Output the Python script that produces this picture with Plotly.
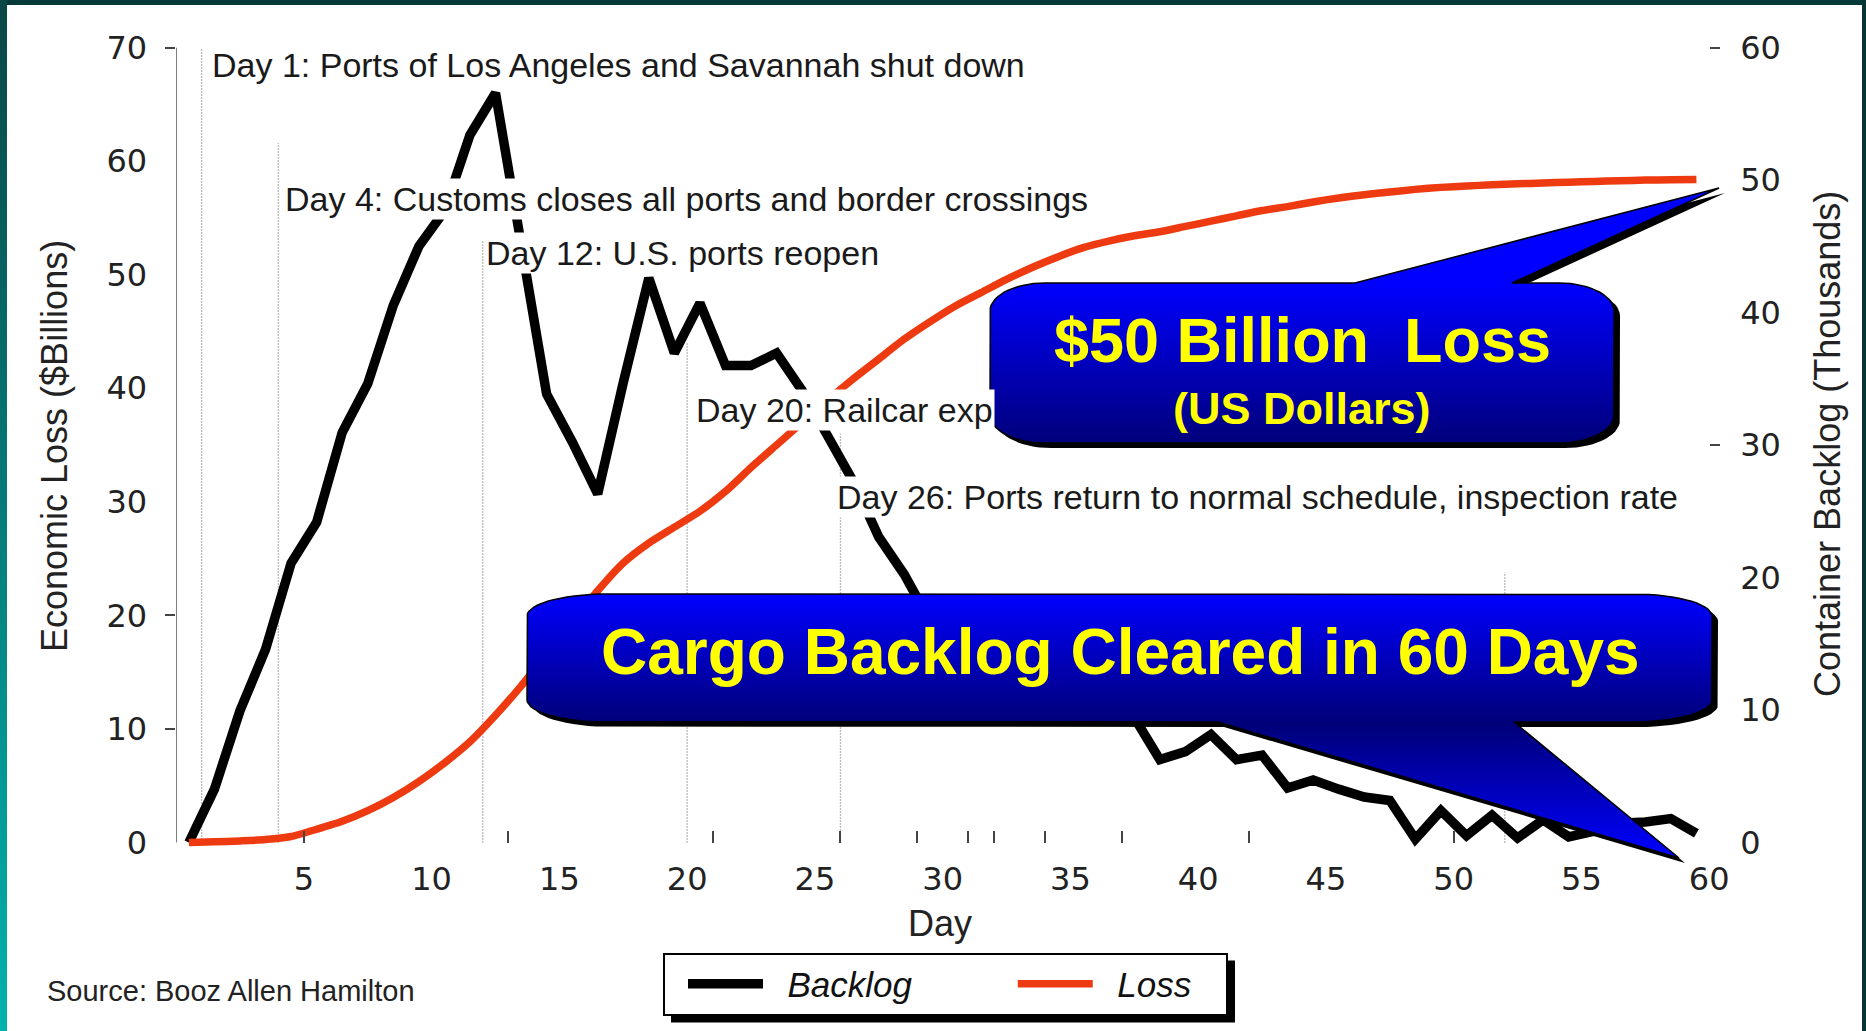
import numpy as np
import plotly.graph_objects as go

# ------------------------------------------------------------------ data
days = list(range(1, 61))
backlog = [0.0, 4.7, 11.6, 17.0, 24.6, 28.2, 36.1, 40.4, 47.3, 52.5,
           55.6, 62.3, 66.0, 53.0, 39.5, 35.3, 30.7, 40.5, 49.7, 43.1,
           47.5, 42.0, 42.0, 43.1, 39.8, 35.8, 31.8, 26.9, 23.6, 19.5,
           18.8, 17.5, 17.9, 16.2, 15.1, 14.6, 13.0, 11.0, 7.3, 8.0,
           9.5, 7.3, 7.7, 4.8, 5.5, 4.7, 4.0, 3.7, 0.3, 2.8,
           0.6, 2.4, 0.4, 2.0, 0.5, 1.0, 1.7, 1.8, 2.1, 0.8]
loss = [0.0, 0.05, 0.12, 0.22, 0.45, 1.0, 1.6, 2.4, 3.4, 4.6,
        6.0, 7.6, 9.6, 11.8, 14.2, 16.6, 19.0, 21.1, 22.6, 23.8,
        25.0, 26.5, 28.3, 30.0, 31.7, 33.4, 35.0, 36.5, 38.0, 39.3,
        40.5, 41.5, 42.5, 43.4, 44.2, 44.9, 45.4, 45.8, 46.1, 46.5,
        46.9, 47.3, 47.7, 48.0, 48.35, 48.65, 48.9, 49.1, 49.3, 49.45,
        49.55, 49.65, 49.72, 49.78, 49.84, 49.9, 49.95, 50.0, 50.02, 50.05]

x_ticks = [5, 10, 15, 20, 25, 30, 35, 40, 45, 50, 55, 60]
left_ticks = [0, 10, 20, 30, 40, 50, 60, 70]
right_ticks = [0, 10, 20, 30, 40, 50, 60]
bottom_marks = [5, 13, 21, 26, 29, 31, 32, 34, 37, 42, 50]
left_marks = [10, 20, 70]
right_marks = [30, 60]

event_days = [1, 4, 12, 20, 26, 52]
event_tops = [70, 61.6, 53.0, 44.0, 36.0, 23.8]
event_labels = ["Day 1: Ports of Los Angeles and Savannah shut down",
                "Day 4: Customs closes all ports and border crossings",
                "Day 12: U.S. ports reopen",
                "Day 20: Railcar exp",
                "Day 26: Ports return to normal schedule, inspection rate",
                None]
event_label_y = [68.5, 56.7, 51.9, 38.1, 30.4, None]
event_label_shift = [8, 5, 1, 7, -5, 0]

callout1_lines = ["$50 Billion  Loss", "(US Dollars)"]
callout2_text = "Cargo Backlog Cleared in 60 Days"
source_text = "Source: Booz Allen Hamilton"
series_names = ["Backlog", "Loss"]

# ------------------------------------------------------------------ geometry
W, H = 1866, 1031
PX_X0, PX_X60 = 176.1, 1709.2
PX_Y0, PX_Y70 = 842.5, 47.6
YMIN = -1.0
ppu = (PX_Y0 - PX_Y70) / 70.0
px_ymin = PX_Y0 - YMIN * ppu
dom_x = [PX_X0 / W, PX_X60 / W]
dom_y = [1 - px_ymin / H, 1 - PX_Y70 / H]
y0_paper = 1 - PX_Y0 / H
R_MIN = YMIN * 60.0 / 70.0

x_pos = np.array(days) - 0.5  # values plotted at category centres

TICK_FONT = dict(family="DejaVu Sans", size=32, color="#222")
TITLE_FONT = dict(family="Liberation Sans, Arial", size=36, color="#222")
NOTE_FONT = dict(family="Liberation Sans, Arial", size=34, color="#1a1a1a")
BIG_FONT = dict(family="Liberation Sans, Arial", size=64, color="#FFFF00", weight="bold")

fig = go.Figure()

# event marker lines
ex, ey = [], []
for d, t in zip(event_days, event_tops):
    ex += [d, d, None]
    ey += [0, t, None]
fig.add_trace(go.Scatter(x=ex, y=ey, mode="lines", showlegend=False, hoverinfo="skip",
                         line=dict(color="#777", width=1.3, dash="1px,2px")))

NB = "\u00a0"
fig.add_trace(go.Scatter(x=x_pos, y=backlog, mode="lines", name=NB * 2 + series_names[0] + NB * 8,
                         line=dict(color="black", width=9.5)))
fig.add_trace(go.Scatter(x=x_pos, y=loss, mode="lines", name=NB * 2 + series_names[1] + NB * 3,
                         yaxis="y2",
                         line=dict(color="#EE3A10", width=7.5, shape="spline", smoothing=0.6)))


# ------------------------------------------------------------------ callouts (pixel overlay)
def callout(x0, x1, y0, y1, rx, ry, edge, base, tip, n=16):
    pts = [(x0 + rx, y0)]

    def arc(cx, cy, a0, a1):
        t = np.radians(np.linspace(a0, a1, n))
        return list(zip(cx + rx * np.cos(t), cy + ry * np.sin(t)))
    if edge == "top":
        pts += [(base[0], y0), tip, (base[1], y0)]
    pts += arc(x1 - rx, y0 + ry, -90, 0)
    pts += arc(x1 - rx, y1 - ry, 0, 90)
    if edge == "bottom":
        pts += [(base[1], y1), tip, (base[0], y1)]
    pts += arc(x0 + rx, y1 - ry, 90, 180)
    pts += arc(x0 + rx, y0 + ry, 180, 270)
    pts.append(pts[0])
    xs, ys = zip(*pts)
    return np.array(xs), np.array(ys)


def add_callout(xs, ys, grad, start, stop, dx=6, dy=5):
    fig.add_trace(go.Scatter(x=xs + dx, y=ys + dy, xaxis="x3", yaxis="y3", mode="lines",
                             fill="toself", fillcolor="black", line=dict(width=0, color="black"),
                             showlegend=False, hoverinfo="skip"))
    fig.add_trace(go.Scatter(x=xs, y=ys, xaxis="x3", yaxis="y3", mode="lines", fill="toself",
                             fillgradient=dict(type="vertical", colorscale=grad, start=start, stop=stop),
                             line=dict(width=1.5, color="black"), showlegend=False, hoverinfo="skip"))


c1x, c1y = callout(990, 1614, 283, 443, 55, 28, "top", (1355, 1512), (1719, 188))
add_callout(c1x, c1y, [[0, "#0000FF"], [1, "#00007A"]], 283, 443)
c2x, c2y = callout(527, 1712, 594, 722, 80, 22, "bottom", (1218, 1514), (1679, 858))
add_callout(c2x, c2y, [[0, "#0000FF"], [0.49, "#000078"], [1, "#0000FF"]], 594, 858)


def rect(x0, x1, y0, y1):
    return np.array([x0, x1, x1, x0, x0]), np.array([y0, y0, y1, y1, y0])


# frame bands
bx, by = rect(0, W, 0, 5)
fig.add_trace(go.Scatter(x=bx, y=by, xaxis="x3", yaxis="y3", mode="lines", fill="toself",
                         fillcolor="#063a3a", line=dict(width=0), showlegend=False, hoverinfo="skip"))
bx, by = rect(W - 4, W, 0, H)
fig.add_trace(go.Scatter(x=bx, y=by, xaxis="x3", yaxis="y3", mode="lines", fill="toself",
                         fillcolor="#0a3434", line=dict(width=0), showlegend=False, hoverinfo="skip"))
bx, by = rect(0, 7, 0, H)
fig.add_trace(go.Scatter(x=bx, y=by, xaxis="x3", yaxis="y3", mode="lines", fill="toself",
                         fillgradient=dict(type="vertical", colorscale=[[0, "#0a4646"], [1, "#00b2ae"]],
                                           start=0, stop=H),
                         line=dict(width=0), showlegend=False, hoverinfo="skip"))

# ------------------------------------------------------------------ annotations
ann = []
for d, lab, yv, sh in zip(event_days, event_labels, event_label_y, event_label_shift):
    if lab is None:
        continue
    ann.append(dict(x=d, y=yv, xref="x", yref="y", text=lab, showarrow=False, xanchor="left",
                    yanchor="middle", xshift=sh, font=NOTE_FONT, bgcolor="white", borderpad=1))

ann.append(dict(x=1302, y=340, xref="x3", yref="y3", text=callout1_lines[0], showarrow=False,
                font=dict(BIG_FONT, size=63)))
ann.append(dict(x=1302, y=408, xref="x3", yref="y3", text=callout1_lines[1], showarrow=False,
                font=dict(BIG_FONT, size=45)))
ann.append(dict(x=1120, y=652, xref="x3", yref="y3", text=callout2_text, showarrow=False,
                font=BIG_FONT))

ann.append(dict(x=54, y=446, xref="x3", yref="y3", text="Economic Loss ($Billions)", textangle=-90,
                showarrow=False, font=TITLE_FONT))
ann.append(dict(x=1827, y=444, xref="x3", yref="y3", text="Container Backlog (Thousands)", textangle=-90,
                showarrow=False, font=TITLE_FONT))
ann.append(dict(x=940, y=923, xref="x3", yref="y3", text="Day", showarrow=False, font=TITLE_FONT))
ann.append(dict(x=45, y=991, xref="x3", yref="y3", text=source_text, showarrow=False, xanchor="left",
                font=dict(family="Liberation Sans, Arial", size=29, color="#222")))

LEG_TOP = 952.5
shapes = [
    dict(type="line", xref="x", yref="y", x0=0, x1=0, y0=0, y1=70, line=dict(color="#555", width=1.5)),
    dict(type="rect", xref="paper", yref="paper", x0=671 / W, x1=1235 / W,
         y0=1 - (LEG_TOP + 70) / H, y1=1 - (LEG_TOP + 8) / H,
         fillcolor="black", line=dict(width=0), layer="above"),
]

fig.update_layout(
    width=W, height=H, margin=dict(l=0, r=0, t=0, b=0, autoexpand=False),
    paper_bgcolor="white", plot_bgcolor="rgba(0,0,0,0)",
    showlegend=True,
    legend=dict(orientation="h", x=663 / W, y=1 - LEG_TOP / H, xanchor="left", yanchor="top",
                bgcolor="white", bordercolor="black", borderwidth=2, indentation=18,
                font=dict(family="Liberation Sans, Arial", size=35, color="#111", style="italic"),
                itemwidth=75, traceorder="normal"),
    xaxis=dict(domain=dom_x, range=[0, 60], anchor="free", position=y0_paper, automargin=False,
               tickmode="array", tickvals=x_ticks, ticks="", showgrid=False, zeroline=False,
               showline=False, tickfont=TICK_FONT, ticklabelstandoff=14,
               minor=dict(tickmode="array", tickvals=bottom_marks, ticks="inside", ticklen=12,
                          tickcolor="#444", tickwidth=1.5, showgrid=False)),
    yaxis=dict(domain=dom_y, range=[YMIN, 70], anchor="x", tickmode="array", tickvals=left_ticks,
               ticks="", showgrid=False, zeroline=False, showline=False, tickfont=TICK_FONT,
               ticklabelstandoff=28, automargin=False,
               minor=dict(tickmode="array", tickvals=left_marks, ticks="outside", ticklen=10,
                          tickcolor="#444", tickwidth=1.5, showgrid=False)),
    yaxis2=dict(range=[R_MIN, 60], overlaying="y", side="right", anchor="x", tickmode="array",
                tickvals=right_ticks, ticks="", showgrid=False, zeroline=False, showline=False,
                tickfont=TICK_FONT, ticklabelstandoff=30, automargin=False,
                minor=dict(tickmode="array", tickvals=right_marks, ticks="outside", ticklen=10,
                           tickcolor="#444", tickwidth=1.5, showgrid=False)),
    xaxis3=dict(domain=[0, 1], range=[0, W], anchor="y3", visible=False, fixedrange=True,
                automargin=False),
    yaxis3=dict(domain=[0, 1], range=[H, 0], anchor="x3", visible=False, fixedrange=True,
                automargin=False),
    annotations=ann, shapes=shapes,
)

fig.write_html("out.html", config={"displayModeBar": False},
               post_script="document.body.style.margin='0';document.body.style.overflow='hidden';")
